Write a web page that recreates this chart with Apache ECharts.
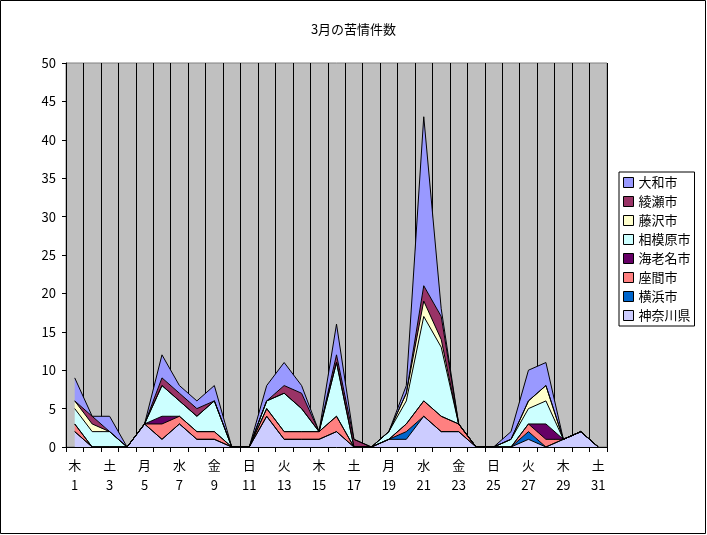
<!DOCTYPE html>
<html>
<head>
<meta charset="utf-8">
<script src="https://cdn.jsdelivr.net/npm/echarts@6/dist/echarts.min.js"></script>
<style>
html,body{margin:0;padding:0;background:#fff;}
#chart{width:707px;height:535px;}
</style>
</head>
<body>
<div id="chart"></div>
<script>
// 曜日と日付
var weekdays = ['木','金','土','日','月','火','水','木','金','土','日','月','火','水','木','金','土','日','月','火','水','木','金','土','日','月','火','水','木','金','土'];
var days = [];
for (var i = 1; i <= 31; i++) days.push(i);

// 各市の件数（下から積み上げ順）
var kanagawa  = [2,0,0,0,3,1,3,1,1,0,0,4,1,1,1,2,0,0,1,1,4,2,2,0,0,0,1,0,1,2,0];
var yokohama  = [0,0,0,0,0,0,0,0,0,0,0,0,0,0,0,0,0,0,0,1,0,0,0,0,0,0,1,0,0,0,0];
var zama      = [1,0,0,0,0,2,1,1,1,0,0,1,1,1,1,2,0,0,0,1,2,2,1,0,0,0,1,1,0,0,0];
var ebina     = [0,0,0,0,0,1,0,0,0,0,0,0,0,0,0,0,0,0,0,0,0,0,0,0,0,0,0,2,0,0,0];
var sagamihara= [2,2,2,0,0,4,2,2,4,0,0,1,5,3,0,7,0,0,1,3,11,9,0,0,0,1,2,3,0,0,0];
var fujisawa  = [1,1,0,0,0,0,0,0,0,0,0,0,0,0,0,0,0,0,0,1,2,1,0,0,0,0,1,2,0,0,0];
var ayase     = [0,1,0,0,0,1,1,1,0,0,0,0,1,2,0,1,1,0,0,0,2,3,0,0,0,0,0,0,0,0,0];
var yamato    = [3,0,2,0,0,3,1,1,2,0,0,2,3,1,0,4,0,0,0,1,22,1,0,0,0,1,4,3,0,0,0];

var seriesNames = ['神奈川県','横浜市','座間市','海老名市','相模原市','藤沢市','綾瀬市','大和市'];
var seriesData = [kanagawa, yokohama, zama, ebina, sagamihara, fujisawa, ayase, yamato];
var colors = ['#CCCCFF','#0066CC','#FF8080','#660066','#CCFFFF','#FFFFCC','#993366','#9999FF'];

var categories = days.map(function (d, i) { return weekdays[i] + '\n' + d; });

var series = seriesNames.map(function (name, i) {
	return {
		name: name,
		type: 'line',
		stack: 'total',
		symbol: 'none',
		data: seriesData[i],
		itemStyle: { color: colors[i] },
		lineStyle: { color: '#000', width: 1 },
		areaStyle: { color: colors[i], opacity: 1 }
	};
});

var chart = echarts.init(document.getElementById('chart'));
chart.setOption({
	animation: false,
	textStyle: { fontFamily: 'Noto Sans CJK JP', color: '#000' },
	title: {
		text: '3月の苦情件数',
		left: 'center',
		top: 18,
		textStyle: { fontSize: 13, fontWeight: 'normal', color: '#000', fontFamily: 'Noto Sans CJK JP' }
	},
	graphic: [{
		type: 'rect',
		shape: { x: 0.5, y: 0.5, width: 705, height: 533 },
		style: { fill: 'none', stroke: '#000', lineWidth: 1 },
		z: 100
	}, {
		type: 'rect',
		shape: { x: 66, y: 63, width: 541, height: 384 },
		style: { fill: '#C0C0C0', stroke: '#808080', lineWidth: 1 },
		z: -1
	}],
	legend: {
		data: seriesNames.slice().reverse(),
		orient: 'vertical',
		left: 619,
		top: 172,
		itemWidth: 10,
		itemHeight: 10,
		itemGap: 6,
		padding: [4, 4, 4, 4],
		borderColor: '#000',
		borderWidth: 1,
		icon: 'rect',
		textStyle: { fontSize: 13, color: '#000', fontFamily: 'Noto Sans CJK JP' },
		itemStyle: { borderColor: '#000', borderWidth: 1 }
	},
	grid: { left: 66, right: 100, top: 63, bottom: 88 },
	xAxis: {
		type: 'category',
		data: categories,
		boundaryGap: true,
		axisLine: { lineStyle: { color: '#000' } },
		axisTick: { show: true, alignWithLabel: false, interval: 0, lineStyle: { color: '#000' } },
		axisLabel: { interval: 1, color: '#000', fontSize: 13, lineHeight: 20, margin: 8 },
		splitLine: { show: true, interval: 0, lineStyle: { color: '#000', width: 1 } }
	},
	yAxis: {
		type: 'value',
		min: 0,
		max: 50,
		interval: 5,
		axisLine: { show: true, lineStyle: { color: '#000' } },
		axisTick: { show: true, inside: false, length: 4, lineStyle: { color: '#000' } },
		axisLabel: { color: '#000', fontSize: 13, margin: 10 },
		splitLine: { show: false }
	},
	series: series
});
</script>
</body>
</html>
